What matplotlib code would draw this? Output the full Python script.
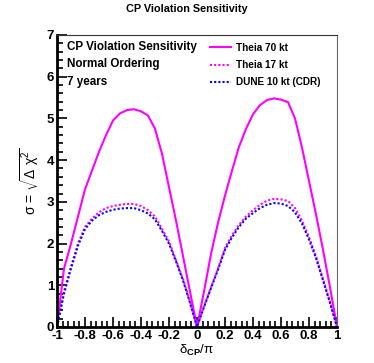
import matplotlib
matplotlib.use("Agg")
import matplotlib.pyplot as plt
from matplotlib.ticker import MultipleLocator

# delta_CP / pi grid
dcp = [-1.0, -0.95, -0.9, -0.85, -0.8, -0.75, -0.7, -0.65, -0.6, -0.55, -0.5,
       -0.45, -0.4, -0.35, -0.3, -0.25, -0.2, -0.15, -0.1, -0.05, 0.0,
       0.05, 0.1, 0.15, 0.2, 0.25, 0.3, 0.35, 0.4, 0.45, 0.5,
       0.55, 0.6, 0.65, 0.7, 0.75, 0.8, 0.85, 0.9, 0.95, 1.0]

theia70 = [0.0, 1.4, 2.0, 2.65, 3.3, 3.75, 4.2, 4.6, 4.95, 5.12, 5.2,
           5.22, 5.17, 5.07, 4.75, 4.15, 3.35, 2.55, 1.7, 0.85, 0.0,
           0.85, 1.75, 2.5, 3.15, 3.75, 4.32, 4.75, 5.1, 5.32, 5.44,
           5.48, 5.45, 5.39, 5.0, 4.3, 3.5, 2.7, 1.85, 0.95, 0.0]

theia17 = [0.0, 0.85, 1.45, 2.0, 2.4, 2.6, 2.75, 2.85, 2.9, 2.93, 2.95,
           2.95, 2.9, 2.8, 2.65, 2.35, 2.05, 1.6, 1.15, 0.6, 0.0,
           0.5, 0.95, 1.4, 1.9, 2.2, 2.45, 2.65, 2.8, 2.93, 3.03,
           3.07, 3.06, 3.02, 2.85, 2.55, 2.15, 1.7, 1.15, 0.6, 0.0]

dune10 = [0.0, 0.8, 1.4, 1.95, 2.35, 2.55, 2.68, 2.76, 2.81, 2.84, 2.85,
          2.85, 2.8, 2.72, 2.58, 2.3, 2.0, 1.57, 1.12, 0.58, 0.0,
          0.48, 0.93, 1.38, 1.85, 2.15, 2.4, 2.6, 2.73, 2.85, 2.93,
          2.97, 2.96, 2.9, 2.75, 2.48, 2.1, 1.65, 1.12, 0.58, 0.0]

labels = ["Theia 70 kt", "Theia 17 kt", "DUNE 10 kt (CDR)"]
info_lines = ["CP Violation Sensitivity", "Normal Ordering", "7 years"]
xtick_vals = [-1, -0.8, -0.6, -0.4, -0.2, 0, 0.2, 0.4, 0.6, 0.8, 1]
xtick_txt = ["-1", "-0.8", "-0.6", "-0.4", "-0.2", "0", "0.2", "0.4", "0.6", "0.8", "1"]

plt.rcParams['font.family'] = ['Liberation Sans', 'DejaVu Sans']
plt.rcParams['mathtext.fontset'] = 'custom'
plt.rcParams['mathtext.rm'] = 'Liberation Sans'
plt.rcParams['mathtext.bf'] = 'Liberation Sans:bold'

fig = plt.figure(figsize=(3.74, 3.63), dpi=100)
ax = fig.add_axes([0.1524, 0.0992, 0.7487, 0.8044])

dot = (0, (1, 1))
ax.plot(dcp, theia70, color='#ff00ff', lw=1.5, label=labels[0])
ax.plot(dcp, theia17, color='#ff00ff', lw=1.5, ls=dot, label=labels[1])
ax.plot(dcp, dune10, color='#0000ff', lw=1.5, ls=dot, label=labels[2])

ax.set_xlim(-1, 1)
ax.set_ylim(0, 7)
ax.xaxis.set_minor_locator(MultipleLocator(0.04))
ax.yaxis.set_major_locator(MultipleLocator(1))
ax.yaxis.set_minor_locator(MultipleLocator(0.2))
ax.set_xticks(xtick_vals)
ax.set_xticklabels(xtick_txt)
ax.tick_params(which='both', direction='in', top=False, right=False, width=1.2)
ax.tick_params(which='major', length=7, labelsize=9.5)
ax.tick_params(axis='x', which='major', pad=2.5)
ax.tick_params(axis='y', which='major', pad=2)
ax.tick_params(which='minor', length=4)
for lab in ax.get_xticklabels() + ax.get_yticklabels():
    lab.set_fontweight('bold')

ax.spines['left'].set_linewidth(2)
ax.spines['bottom'].set_linewidth(2)
ax.spines['top'].set_linewidth(0.8)
ax.spines['right'].set_linewidth(0.8)
ax.spines['right'].set_color('#666666')
ax.spines['top'].set_color('#333333')

ax.set_xlabel('δ$_{\\mathbf{CP}}$/π', fontsize=9.5, labelpad=0.5)
ax.set_ylabel(r'σ = $\sqrt{\mathrm{Δ\ χ^{2}}}$', fontsize=10, labelpad=4)

fig.text(0.5, 0.989, "CP Violation Sensitivity", ha='center', va='top',
         fontsize=7.8, fontweight='bold')

for i, t in enumerate(info_lines):
    ax.text(0.035, 0.960 - i * 0.06, t, transform=ax.transAxes, ha='left', va='center',
            fontsize=8.4, fontweight='bold')

leg = ax.legend(loc='upper left', bbox_to_anchor=(0.546, 0.973), frameon=False,
                fontsize=7.2, handlelength=2.1, handletextpad=0.55,
                labelspacing=0.72, borderaxespad=0, borderpad=0)
for t in leg.get_texts():
    t.set_fontweight('bold')

fig.savefig("out.png", dpi=100)
